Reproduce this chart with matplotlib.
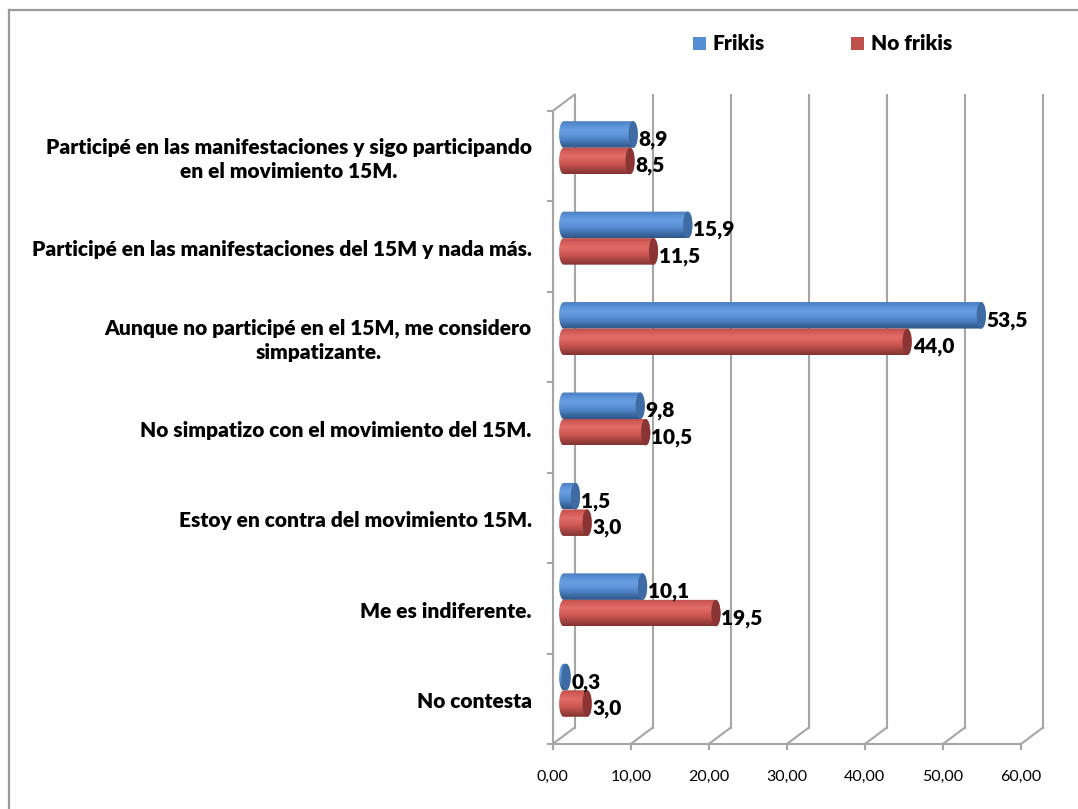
import matplotlib
matplotlib.use("Agg")
import matplotlib.pyplot as plt
import numpy as np
from matplotlib.patches import Ellipse, Rectangle, Polygon
from matplotlib.lines import Line2D
from matplotlib.colors import LinearSegmentedColormap

plt.rcParams['font.family'] = ['Lato', 'DejaVu Sans']

categories = [
    "Participé en las manifestaciones y sigo participando\nen el movimiento 15M.",
    "Participé en las manifestaciones del 15M y nada más.",
    "Aunque no participé en el 15M, me considero\nsimpatizante.",
    "No simpatizo con el movimiento del 15M.",
    "Estoy en contra del movimiento 15M.",
    "Me es indiferente.",
    "No contesta",
]
frikis = [8.9, 15.9, 53.5, 9.8, 1.5, 10.1, 0.3]
no_frikis = [8.5, 11.5, 44.0, 10.5, 3.0, 19.5, 3.0]
xticks = [0, 10, 20, 30, 40, 50, 60]

W, H = 1078, 809
X0, X60 = 552.7, 1021.0
Y_TOP, Y_BOT = 111.0, 744.0
DX_PX, DY_PX = 22.0, 16.5

fig = plt.figure(figsize=(W / 100, H / 100), dpi=100)
ax = fig.add_axes([X0 / W, 1 - Y_BOT / H, (X60 - X0) / W, (Y_BOT - Y_TOP) / H])
ax.set_xlim(0, 60)
ax.set_ylim(7, 0)
for s in ax.spines.values():
    s.set_visible(False)
ax.set_xticks([])
ax.set_yticks([])
ax.patch.set_visible(False)

px = 60 / (X60 - X0)
py = 7 / (Y_BOT - Y_TOP)
dx = DX_PX * px
dy = DY_PX * py
grid = '#a6a6a6'
lw = 1.5
LABEL_W = 'heavy'

# back wall and floor
for v in xticks:
    ax.plot([v + dx, v + dx], [7 - dy, -dy], color=grid, lw=lw, clip_on=False, zorder=1)
    ax.plot([v, v + dx], [7, 7 - dy], color=grid, lw=lw, clip_on=False, zorder=1)
    ax.plot([v, v], [7, 7 + 5 * py], color=grid, lw=lw, clip_on=False, zorder=1)
    ax.text(v, 7 + 33 * py, f"{v:.2f}".replace('.', ','), ha='center', va='center', fontsize=11.5)
ax.plot([0, 60], [7, 7], color=grid, lw=lw, clip_on=False, zorder=1)
ax.plot([0, 0], [0, 7], color=grid, lw=lw, clip_on=False, zorder=1)
ax.plot([0, dx], [0, -dy], color=grid, lw=lw, clip_on=False, zorder=1)
for i in range(8):
    ax.plot([-5 * px, 0], [i, i], color=grid, lw=lw, clip_on=False, zorder=1)

blue = LinearSegmentedColormap.from_list('b', ['#4a7dbd', '#5a92d8', '#6a9fe0', '#5f95da', '#4f85c8', '#3d6ca6', '#2f5586'])
red = LinearSegmentedColormap.from_list('r', ['#bd4f4b', '#d65e5a', '#e26c68', '#d8605c', '#c4514d', '#a04340', '#853331'])
grad = np.linspace(0, 1, 64).reshape(-1, 1)

BAR_H = 26.5 * py
HALF_W = 4.6 * px
START = 11 * px


def cylinder(value, yc, cmap, cap):
    x0 = START
    x1 = START + value
    y0, y1 = yc - BAR_H / 2, yc + BAR_H / 2
    theta = np.linspace(np.pi / 2, 3 * np.pi / 2, 30)
    left = np.column_stack([x0 + HALF_W * np.cos(theta), yc - BAR_H / 2 * np.sin(theta)])
    right = np.column_stack([x1 - HALF_W * np.cos(theta), yc + BAR_H / 2 * np.sin(theta)])
    outline = Polygon(np.vstack([left, right]), closed=True, transform=ax.transData, fc='none', ec='none')
    ax.add_patch(outline)
    im = ax.imshow(grad, cmap=cmap, extent=[x0 - HALF_W, x1 + HALF_W, y1, y0], aspect='auto', zorder=3, clip_on=True)
    im.set_clip_path(outline)
    ax.add_patch(Ellipse((x1, yc), 2 * HALF_W, BAR_H, fc=cap, ec='none', zorder=4, clip_on=False))
    return x1 + HALF_W


for i in range(len(categories)):
    yc = i + 0.5 - 8.5 * py
    yb = yc - BAR_H / 2
    yr = yc + BAR_H / 2
    end = cylinder(frikis[i], yb, blue, '#3e6ba3')
    ax.text(end + 1 * px, yb + 5 * py, f"{frikis[i]:.1f}".replace('.', ','), fontsize=15, fontweight=LABEL_W,
            va='center', ha='left', zorder=6, clip_on=False)
    end = cylinder(no_frikis[i], yr, red, '#8a3533')
    ax.text(end + 1 * px, yr + 5 * py, f"{no_frikis[i]:.1f}".replace('.', ','), fontsize=15, fontweight=LABEL_W,
            va='center', ha='left', zorder=6, clip_on=False)
    ax.text(-21 * px, i + 0.5 + 3 * py, categories[i], fontsize=15, fontweight=LABEL_W, ha='right', va='center',
            multialignment='center', linespacing=1.3, clip_on=False)
ax.set_xlim(0, 60)
ax.set_ylim(7, 0)

# legend, outer frame (figure pixels)
fig.add_artist(Rectangle((693 / W, 1 - 50 / H), 13 / W, 13 / H, transform=fig.transFigure, fc='#558ed5', ec='none'))
fig.add_artist(Rectangle((851 / W, 1 - 50 / H), 13 / W, 13 / H, transform=fig.transFigure, fc='#c0504d', ec='none'))
fig.text(712 / W, 1 - 43.5 / H, "Frikis", fontsize=15, fontweight=LABEL_W, va='center')
fig.text(871 / W, 1 - 43.5 / H, "No frikis", fontsize=15, fontweight=LABEL_W, va='center')
fig.add_artist(Line2D([9 / W, 9 / W], [0, 1 - 10 / H], transform=fig.transFigure, color='#9a9a9a', lw=1.6))
fig.add_artist(Line2D([9 / W, 1], [1 - 10 / H, 1 - 10 / H], transform=fig.transFigure, color='#9a9a9a', lw=1.6))

fig.savefig("out.png", dpi=100)
